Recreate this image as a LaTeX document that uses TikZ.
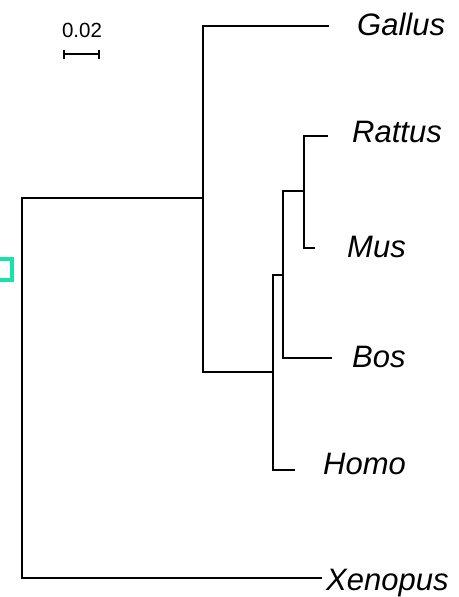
\documentclass[tikz,border=0pt]{standalone}
\usepackage{fontspec}
\setmainfont{Liberation Sans}
\usetikzlibrary{arrows.meta}
\definecolor{marker}{RGB}{22,226,172}
\tikzset{
  branch/.style={line width=2pt, line join=miter},
  taxon/.style={anchor=base west, inner sep=0pt, font=\fontsize{31}{31}\selectfont\itshape},
  scalelabel/.style={anchor=base, inner sep=0pt, font=\fontsize{20.5}{20.5}\selectfont},
  scalebar/.style={line width=2pt, {Bar[width=9pt,line width=2pt]}-{Bar[width=9pt,line width=2pt]}},
  markbox/.style={draw=marker, line width=4pt, minimum width=22pt, minimum height=21pt, inner sep=0pt}
}
\begin{document}
\begin{tikzpicture}[x=1pt, y=-1pt]
  \useasboundingbox (0,0) rectangle (458,597);

  % internal nodes of the tree
  \coordinate (r)  at (22,388);
  \coordinate (nA) at (203,198);
  \coordinate (nB) at (273,372);
  \coordinate (nC) at (283,275);
  \coordinate (nD) at (304,191);

  % branch tips
  \coordinate (tGallus)  at (329,26);
  \coordinate (tRattus)  at (328,136);
  \coordinate (tMus)     at (315,248);
  \coordinate (tBos)     at (332,358);
  \coordinate (tHomo)    at (295,470);
  \coordinate (tXenopus) at (322,578);

  % taxon labels
  \node[taxon] (Gallus)  at (357,35)  {Gallus};
  \node[taxon] (Rattus)  at (352,142) {Rattus};
  \node[taxon] (Mus)     at (347,257) {Mus};
  \node[taxon] (Bos)     at (352,367) {Bos};
  \node[taxon] (Homo)    at (323,474) {Homo};
  \node[taxon] (Xenopus) at (326,590) {Xenopus};

  % branches
  \draw[branch] (nA) -| (r) |- (tXenopus);
  \draw[branch] (tGallus) -| (nA) |- (nB);
  \draw[branch] (nC) -| (nB) |- (tHomo);
  \draw[branch] (nD) -| (nC) |- (tBos);
  \draw[branch] (tRattus) -| (nD) |- (tMus);

  % scale bar
  \coordinate (sb1) at (63,54);
  \coordinate (sb2) at (100,54);
  \draw[scalebar] (sb1) -- (sb2);
  \node[scalelabel] (sblabel) at (82,37) {0.02};

  % selection marker at the root
  \node[markbox] (mark) at (1,269.5) {};
\end{tikzpicture}
\end{document}
